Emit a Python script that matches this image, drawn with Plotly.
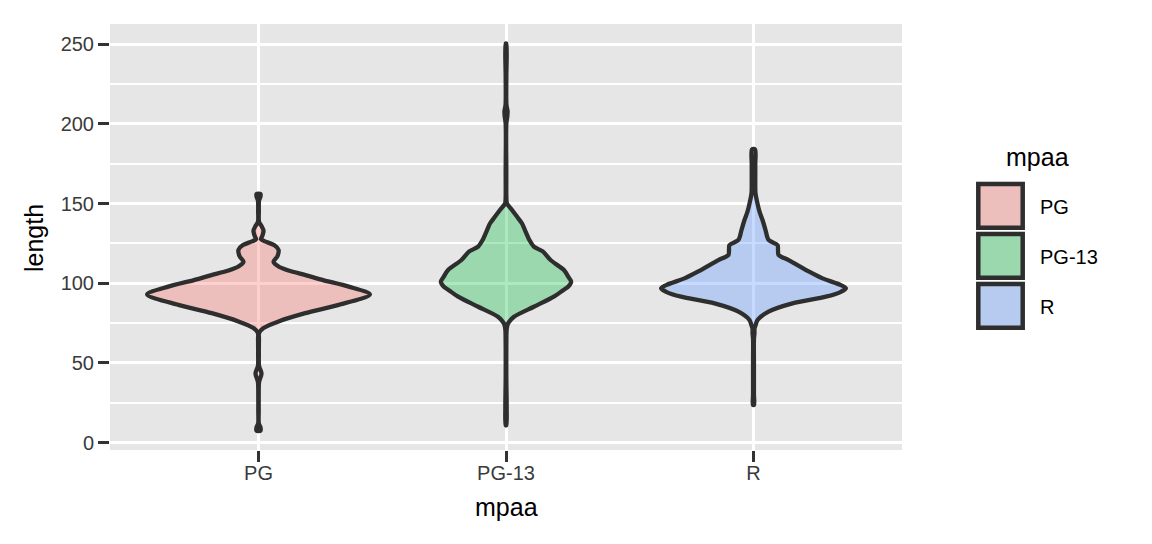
import plotly.graph_objects as go

# categories on the x axis
ratings = ["PG", "PG-13", "R"]

# violin outlines: length value and relative density (widest = 1)
pg_length = [7.5, 9.5, 12, 20, 30, 38, 43.5, 48, 55, 65, 68.8, 71.9, 76.1, 81.3, 86.5, 93,
             97.9, 102, 105, 108, 110.5, 113.5, 117, 121, 124, 126, 127.6, 130, 133, 136,
             138.5, 145, 152, 154.5, 156]
pg_density = [0.018, 0.018, 0.003, 0.002, 0.002, 0.005, 0.027, 0.005, 0.003, 0.004, 0.005,
              0.045, 0.18, 0.42, 0.72, 1.0, 0.81, 0.58, 0.43, 0.27, 0.18, 0.135, 0.17, 0.18,
              0.14, 0.07, 0.022, 0.036, 0.045, 0.027, 0.005, 0.003, 0.005, 0.018, 0.018]

pg13_length = [11, 22, 40, 60, 70, 72.8, 75, 79, 85.3, 91.6, 95.5, 98, 101, 104, 108.3, 114.6,
               120, 123, 127.2, 133.4, 137.5, 141.7, 146, 150, 152.3, 170, 200, 205, 208, 212,
               230, 250.5]
pg13_density = [0.003, 0.006, 0.003, 0.003, 0.005, 0.01, 0.02, 0.072, 0.25, 0.43, 0.51, 0.56,
                0.585, 0.56, 0.52, 0.40, 0.33, 0.25, 0.21, 0.17, 0.144, 0.10, 0.054, 0.009,
                0.004, 0.003, 0.003, 0.012, 0.014, 0.004, 0.003, 0.003]

r_length = [23.7, 30, 50, 65, 68.8, 71.7, 74, 77, 82.2, 87.4, 91.6, 94.5, 96.9, 99, 103.1,
            107.3, 114.6, 117.8, 121, 124, 127.2, 133.4, 139.7, 145, 150, 156.5, 165, 175, 184]
r_density = [0.005, 0.004, 0.004, 0.004, 0.009, 0.009, 0.02, 0.036, 0.135, 0.35, 0.65, 0.78,
             0.83, 0.78, 0.62, 0.50, 0.315, 0.225, 0.22, 0.216, 0.135, 0.108, 0.081, 0.054,
             0.036, 0.018, 0.016, 0.016, 0.014]

y_ticks = [0, 50, 100, 150, 200, 250]

fills = ["rgba(248,118,109,0.34)", "rgba(0,186,56,0.32)", "rgba(97,156,255,0.36)"]
HALF_WIDTH = 0.45
OUTLINE = "#2E2E2E"
PANEL = "#E6E6E6"
FONT = "Liberation Sans, Arial, sans-serif"

# the page puts the figure 8px in from the top-left corner
OFF = 8
W, H = 1144, 536
L, R_M, T, B = 102, 250, 16, 94
PW, PH = W - L - R_M, H - T - B


def px(x):
    return (x - OFF - L) / PW


def py(y):
    return (H - B - (y - OFF)) / PH


fig = go.Figure()

profiles = [(pg_length, pg_density), (pg13_length, pg13_density), (r_length, r_density)]
for i, (lengths, dens) in enumerate(profiles):
    centre = i + 1
    xs = [centre + HALF_WIDTH * d for d in dens] + [centre - HALF_WIDTH * d for d in reversed(dens)]
    ys = list(lengths) + list(reversed(lengths))
    xs.append(xs[0])
    ys.append(ys[0])
    fig.add_trace(go.Scatter(
        x=xs, y=ys, mode="lines", fill="toself", fillcolor=fills[i],
        line=dict(color=OUTLINE, width=4.3, shape="spline", smoothing=0.8),
        name=ratings[i], showlegend=False, hoverinfo="skip",
    ))

fig.update_xaxes(
    range=[0.4, 3.6], tickvals=[1, 2, 3], ticktext=ratings,
    showgrid=True, gridcolor="white", gridwidth=3, zeroline=False,
    ticks="outside", ticklen=11, tickwidth=3, tickcolor="#333333",
    ticklabelstandoff=-6,
    tickfont=dict(family=FONT, size=20, color="#3A3A3A"),
)
fig.update_yaxes(
    range=[-4.6, 262.7], tickvals=y_ticks,
    showgrid=True, gridcolor="white", gridwidth=3, zeroline=False,
    ticks="outside", ticklen=11, tickwidth=3, tickcolor="#333333",
    tickfont=dict(family=FONT, size=20, color="#3A3A3A"),
    minor=dict(tickvals=[25, 75, 125, 175, 225], showgrid=True, gridcolor="white",
               gridwidth=1.5, ticks=""),
)

annotations = [
    dict(text="mpaa", x=px(506), y=py(507), xref="paper", yref="paper", showarrow=False,
         font=dict(family=FONT, size=25, color="black"), xanchor="center", yanchor="middle"),
    dict(text="length", x=px(34), y=py(238), xref="paper", yref="paper", showarrow=False,
         textangle=-90, font=dict(family=FONT, size=25, color="black"),
         xanchor="center", yanchor="middle"),
    dict(text="mpaa", x=px(1004), y=py(157), xref="paper", yref="paper", showarrow=False,
         font=dict(family=FONT, size=25, color="black"), xanchor="left", yanchor="middle"),
]

# hand-built legend keys
shapes = []
key_tops = [181.7, 231.7, 281.7]
for i, top in enumerate(key_tops):
    shapes.append(dict(type="rect", xref="paper", yref="paper",
                       x0=px(976), x1=px(1025), y0=py(top + 48.3), y1=py(top),
                       fillcolor=PANEL, line=dict(width=0), layer="above"))
    shapes.append(dict(type="rect", xref="paper", yref="paper",
                       x0=px(978.3), x1=px(1022.7), y0=py(top + 46), y1=py(top + 2.3),
                       fillcolor=fills[i], line=dict(color=OUTLINE, width=4.5), layer="above"))
    annotations.append(dict(text=ratings[i], x=px(1038), y=py(top + 25.5), xref="paper",
                            yref="paper", showarrow=False, xanchor="left", yanchor="middle",
                            font=dict(family=FONT, size=20, color="black")))

fig.update_layout(
    width=W, height=H,
    margin=dict(l=L, r=R_M, t=T, b=B),
    plot_bgcolor=PANEL, paper_bgcolor="white",
    font=dict(family=FONT),
    showlegend=False,
    shapes=shapes,
    annotations=annotations,
)

fig.write_html("out.html")
